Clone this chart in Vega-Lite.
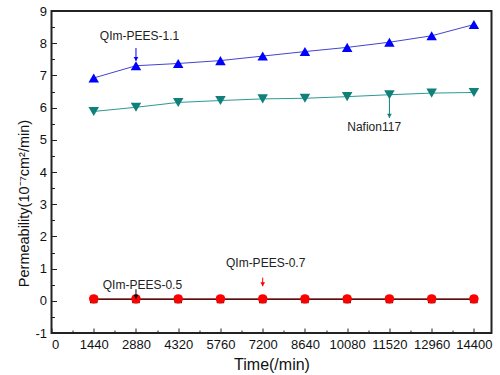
{
  "$schema": "https://vega.github.io/schema/vega-lite/v6.json",
  "width": 440,
  "height": 322,
  "autosize": "none",
  "padding": {"left": 51.5, "top": 11, "right": 8.5, "bottom": 42},
  "background": "white",
  "config": {
    "font": "Liberation Sans",
    "view": {"stroke": "#222222", "strokeWidth": 2},
    "axis": {"grid": false, "domain": false, "labelColor": "#111111", "titleColor": "#111111", "tickColor": "#222222", "titleFontWeight": "normal"}
  },
  "datasets": {
    "perm": [
      {"series": "QIm-PEES-1.1", "time": 1440, "value": 6.92},
      {"series": "QIm-PEES-1.1", "time": 2880, "value": 7.3},
      {"series": "QIm-PEES-1.1", "time": 4320, "value": 7.37},
      {"series": "QIm-PEES-1.1", "time": 5760, "value": 7.46},
      {"series": "QIm-PEES-1.1", "time": 7200, "value": 7.6},
      {"series": "QIm-PEES-1.1", "time": 8640, "value": 7.74},
      {"series": "QIm-PEES-1.1", "time": 10080, "value": 7.87},
      {"series": "QIm-PEES-1.1", "time": 11520, "value": 8.03},
      {"series": "QIm-PEES-1.1", "time": 12960, "value": 8.23},
      {"series": "QIm-PEES-1.1", "time": 14400, "value": 8.58},
      {"series": "Nafion117", "time": 1440, "value": 5.88},
      {"series": "Nafion117", "time": 2880, "value": 6.01},
      {"series": "Nafion117", "time": 4320, "value": 6.16},
      {"series": "Nafion117", "time": 5760, "value": 6.22},
      {"series": "Nafion117", "time": 7200, "value": 6.27},
      {"series": "Nafion117", "time": 8640, "value": 6.29},
      {"series": "Nafion117", "time": 10080, "value": 6.34},
      {"series": "Nafion117", "time": 11520, "value": 6.4},
      {"series": "Nafion117", "time": 12960, "value": 6.45},
      {"series": "Nafion117", "time": 14400, "value": 6.47},
      {"series": "QIm-PEES-0.5", "time": 1440, "value": 0.04},
      {"series": "QIm-PEES-0.5", "time": 2880, "value": 0.04},
      {"series": "QIm-PEES-0.5", "time": 4320, "value": 0.04},
      {"series": "QIm-PEES-0.5", "time": 5760, "value": 0.04},
      {"series": "QIm-PEES-0.5", "time": 7200, "value": 0.04},
      {"series": "QIm-PEES-0.5", "time": 8640, "value": 0.04},
      {"series": "QIm-PEES-0.5", "time": 10080, "value": 0.04},
      {"series": "QIm-PEES-0.5", "time": 11520, "value": 0.04},
      {"series": "QIm-PEES-0.5", "time": 12960, "value": 0.04},
      {"series": "QIm-PEES-0.5", "time": 14400, "value": 0.04},
      {"series": "QIm-PEES-0.7", "time": 1440, "value": 0.06},
      {"series": "QIm-PEES-0.7", "time": 2880, "value": 0.06},
      {"series": "QIm-PEES-0.7", "time": 4320, "value": 0.06},
      {"series": "QIm-PEES-0.7", "time": 5760, "value": 0.06},
      {"series": "QIm-PEES-0.7", "time": 7200, "value": 0.06},
      {"series": "QIm-PEES-0.7", "time": 8640, "value": 0.06},
      {"series": "QIm-PEES-0.7", "time": 10080, "value": 0.06},
      {"series": "QIm-PEES-0.7", "time": 11520, "value": 0.06},
      {"series": "QIm-PEES-0.7", "time": 12960, "value": 0.06},
      {"series": "QIm-PEES-0.7", "time": 14400, "value": 0.06}
    ],
    "notes": [
      {"label": "QIm-PEES-1.1", "tx": 3000, "ty": 8.23, "ax": 2880, "ay1": 7.85, "ay2": 7.45},
      {"label": "Nafion117", "tx": 11000, "ty": 5.4, "ax": 11520, "ay1": 6.3, "ay2": 5.68},
      {"label": "QIm-PEES-0.5", "tx": 3100, "ty": 0.5, "ax": 2880, "ay1": 0.36, "ay2": 0.06},
      {"label": "QIm-PEES-0.7", "tx": 7300, "ty": 1.18, "ax": 7200, "ay1": 0.72, "ay2": 0.45}
    ]
  },
  "resolve": {"axis": {"x": "independent", "y": "independent"}},
  "layer": [
    {
      "data": {"name": "perm"},
      "mark": {"type": "point", "opacity": 0},
      "encoding": {
        "x": {"field": "time", "type": "quantitative", "scale": {"domain": [0, 15000], "nice": false, "zero": false},
              "axis": {"orient": "bottom", "values": [720, 2160, 3600, 5040, 6480, 7920, 9360, 10800, 12240, 13680], "labels": false, "title": null, "tickSize": -3, "tickWidth": 1}},
        "y": {"field": "value", "type": "quantitative", "scale": {"domain": [-1, 9], "nice": false, "zero": false},
              "axis": {"orient": "left", "values": [-0.5, 0.5, 1.5, 2.5, 3.5, 4.5, 5.5, 6.5, 7.5, 8.5], "labels": false, "title": "Permeability(10⁻⁷cm²/min)", "titleFontSize": 14.5, "titleY": 192, "titlePadding": 20, "tickSize": -3, "tickWidth": 1}}
      }
    },
    {
      "encoding": {
        "x": {"type": "quantitative", "scale": {"domain": [0, 15000], "nice": false, "zero": false},
              "axis": {"orient": "bottom", "values": [0, 1440, 2880, 4320, 5760, 7200, 8640, 10080, 11520, 12960, 14400], "labelExpr": "'' + datum.value", "title": "Time(/min)", "titleFontSize": 16, "labelFontSize": 13, "tickSize": -5, "tickWidth": 1, "labelPadding": 10, "titlePadding": 5}},
        "y": {"type": "quantitative", "scale": {"domain": [-1, 9], "nice": false, "zero": false},
              "axis": {"orient": "left", "values": [-1, 0, 1, 2, 3, 4, 5, 6, 7, 8, 9], "labelExpr": "'' + datum.value", "title": null, "labelFontSize": 13, "tickSize": -5, "tickWidth": 1, "labelPadding": 10}}
      },
      "layer": [
        {"data": {"name": "perm"}, "transform": [{"filter": "datum.series === 'QIm-PEES-0.5'"}],
         "mark": {"type": "line", "color": "#111111", "strokeWidth": 1.2},
         "encoding": {"x": {"field": "time"}, "y": {"field": "value"}}},
        {"data": {"name": "perm"}, "transform": [{"filter": "datum.series === 'QIm-PEES-0.5'"}],
         "mark": {"type": "point", "shape": "square", "filled": true, "color": "#000000", "size": 55, "opacity": 1},
         "encoding": {"x": {"field": "time"}, "y": {"field": "value"}}},
        {"data": {"name": "perm"}, "transform": [{"filter": "datum.series === 'QIm-PEES-0.7'"}],
         "mark": {"type": "line", "color": "#8b1a1a", "strokeWidth": 1.2},
         "encoding": {"x": {"field": "time"}, "y": {"field": "value"}}},
        {"data": {"name": "perm"}, "transform": [{"filter": "datum.series === 'QIm-PEES-0.7'"}],
         "mark": {"type": "point", "shape": "circle", "filled": true, "color": "#ff0000", "size": 90, "opacity": 1},
         "encoding": {"x": {"field": "time"}, "y": {"field": "value"}}},
        {"data": {"name": "perm"}, "transform": [{"filter": "datum.series === 'QIm-PEES-1.1'"}],
         "mark": {"type": "line", "color": "#4444cc", "strokeWidth": 1},
         "encoding": {"x": {"field": "time"}, "y": {"field": "value"}}},
        {"data": {"name": "perm"}, "transform": [{"filter": "datum.series === 'QIm-PEES-1.1'"}],
         "mark": {"type": "point", "shape": "triangle-up", "filled": true, "color": "#0000ff", "size": 110, "opacity": 1},
         "encoding": {"x": {"field": "time"}, "y": {"field": "value"}}},
        {"data": {"name": "perm"}, "transform": [{"filter": "datum.series === 'Nafion117'"}],
         "mark": {"type": "line", "color": "#2a9a94", "strokeWidth": 1},
         "encoding": {"x": {"field": "time"}, "y": {"field": "value"}}},
        {"data": {"name": "perm"}, "transform": [{"filter": "datum.series === 'Nafion117'"}],
         "mark": {"type": "point", "shape": "triangle-down", "filled": true, "color": "#0f807a", "size": 110, "opacity": 1},
         "encoding": {"x": {"field": "time"}, "y": {"field": "value"}}},
        {"data": {"name": "notes"},
         "mark": {"type": "rule", "strokeWidth": 1},
         "encoding": {"x": {"field": "ax"}, "y": {"field": "ay1"}, "y2": {"field": "ay2"},
                      "color": {"field": "label", "type": "nominal", "legend": null,
                                "scale": {"domain": ["QIm-PEES-1.1", "Nafion117", "QIm-PEES-0.5", "QIm-PEES-0.7"], "range": ["#0000ff", "#0f807a", "#000000", "#ff0000"]}}}},
        {"data": {"name": "notes"},
         "mark": {"type": "point", "shape": "triangle-down", "filled": true, "size": 22, "opacity": 1, "yOffset": -2},
         "encoding": {"x": {"field": "ax"}, "y": {"field": "ay2"},
                      "color": {"field": "label", "type": "nominal", "legend": null}}},
        {"data": {"name": "notes"},
         "mark": {"type": "text", "fontSize": 12, "color": "#222222"},
         "encoding": {"x": {"field": "tx"}, "y": {"field": "ty"}, "text": {"field": "label"}}}
      ]
    }
  ]
}
